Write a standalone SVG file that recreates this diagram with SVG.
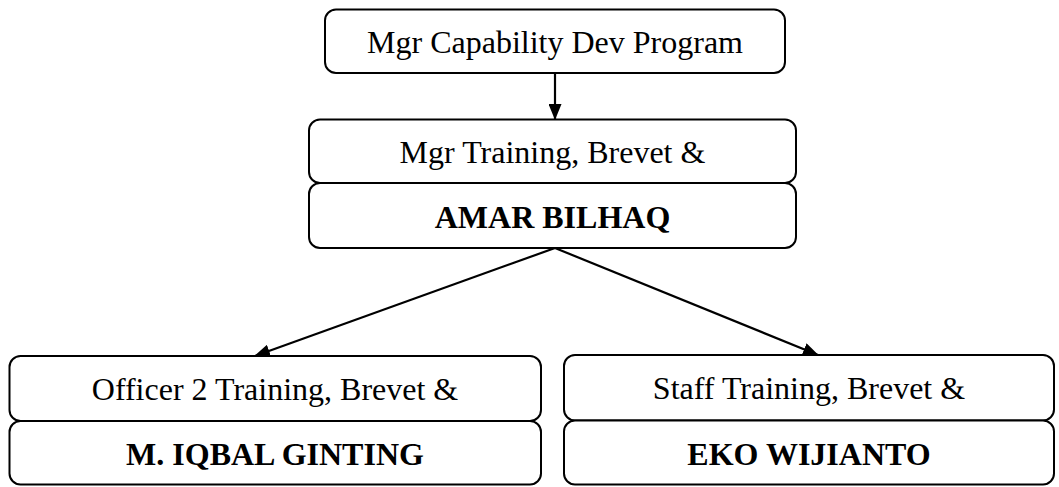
<svg xmlns="http://www.w3.org/2000/svg" width="1059" height="487" viewBox="0 0 1059 487">
<style>
.box{fill:#fff;stroke:#000;stroke-width:2}
.t{font-family:"Liberation Serif","Times New Roman",serif;font-size:32px;fill:#000;text-anchor:middle}
.b{font-weight:bold}
.c{stroke:#000;stroke-width:2.2;fill:none;marker-end:url(#ah)}
</style>
<defs>
<marker id="ah" viewBox="0 0 16 13" refX="15" refY="6.5" markerWidth="16" markerHeight="13" markerUnits="userSpaceOnUse" orient="auto">
<path d="M0,0 L16,6.5 L0,13 z" fill="#000"/>
</marker>
</defs>
<rect width="1059" height="487" fill="#fff"/>
<g id="connectors">
<line class="c" x1="555" y1="73" x2="555" y2="119"/>
<line class="c" x1="555" y1="248" x2="255" y2="356"/>
<line class="c" x1="555" y1="248" x2="818" y2="355"/>
</g>
<g id="n1">
<rect class="box" x="325" y="9.5" width="460" height="63.5" rx="11"/>
<text class="t" x="555" y="53">Mgr Capability Dev Program</text>
</g>
<g id="n2">
<rect class="box" x="309" y="119.5" width="487" height="63.5" rx="11"/>
<text class="t" x="552.5" y="163">Mgr Training, Brevet &amp;</text>
</g>
<g id="n3">
<rect class="box" x="309" y="183" width="487" height="65" rx="11"/>
<text class="t b" x="552.5" y="228">AMAR BILHAQ</text>
</g>
<g id="n4">
<rect class="box" x="9.5" y="356" width="531.5" height="65" rx="11"/>
<text class="t" x="275" y="400">Officer 2 Training, Brevet &amp;</text>
</g>
<g id="n5">
<rect class="box" x="9.5" y="421" width="531.5" height="63.5" rx="11"/>
<text class="t b" x="275" y="465">M. IQBAL GINTING</text>
</g>
<g id="n6">
<rect class="box" x="564" y="355" width="490" height="65.5" rx="11"/>
<text class="t" x="809" y="399">Staff Training, Brevet &amp;</text>
</g>
<g id="n7">
<rect class="box" x="564" y="420.5" width="490" height="64" rx="11"/>
<text class="t b" x="809" y="465">EKO WIJIANTO</text>
</g>
</svg>
